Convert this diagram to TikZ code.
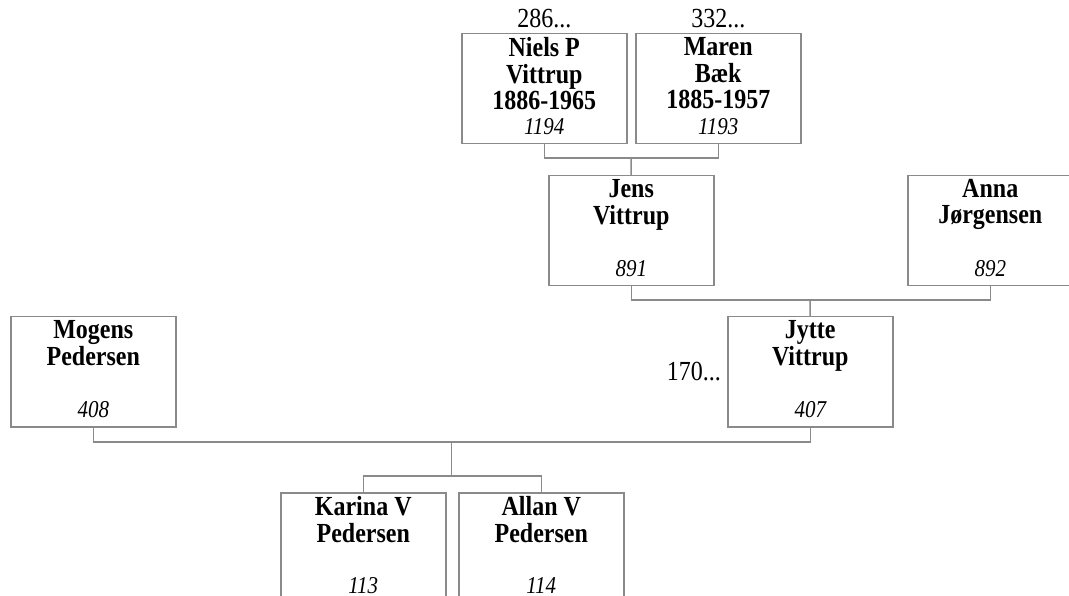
\documentclass[tikz,border=0pt]{standalone}
\usepackage{fontspec}
\usepackage{graphicx}
\setmainfont{Liberation Serif}
\definecolor{linegray}{RGB}{138,138,138}
\tikzset{
  personbox/.style={draw=linegray, line width=1.5pt, minimum width=165pt, minimum height=110pt, inner sep=0pt, anchor=north west},
  nametext/.style={font=\fontsize{24}{22.6}\selectfont\bfseries, inner sep=0pt, anchor=north},
  idtext/.style={font=\fontsize{21}{24}\selectfont\itshape, inner sep=0pt, anchor=base},
  reftext/.style={font=\fontsize{24}{26}\selectfont, inner sep=0pt},
  conn/.style={draw=linegray, line width=1.5pt}
}
\newcommand{\tallish}[1]{\scalebox{1}[1.15]{#1}}
\newcommand{\personnode}[4]{%
  \node[personbox] (#1) at (#2) {};
  \node[nametext] (#1-name) at ([yshift=-4pt]#1.north) {\tallish{\begin{tabular}{@{}c@{}}#3\end{tabular}}};
  \node[idtext] (#1-id) at ([yshift=10pt]#1.south) {\tallish{#4}};
}
\begin{document}
\begin{tikzpicture}[x=1pt,y=-1pt]
\useasboundingbox (0,0) rectangle (1069,596);
\clip (0,0) rectangle (1069,596);
\personnode{niels}{461,33}{Niels P\\Vittrup\\1886-1965}{1194}
\personnode{maren}{635,33}{Maren\\Bæk\\1885-1957}{1193}
\personnode{jens}{548,175}{Jens\\Vittrup}{891}
\personnode{anna}{907,175}{Anna\\Jørgensen}{892}
\personnode{mogens}{10,316}{Mogens\\Pedersen}{408}
\personnode{jytte}{727,316}{Jytte\\Vittrup}{407}
\personnode{karina}{280,492}{Karina V\\Pedersen}{113}
\personnode{allan}{458,492}{Allan V\\Pedersen}{114}

\node[reftext, anchor=base] (r286) at ([yshift=5pt]niels.north) {\tallish{286...}};
\node[reftext, anchor=base] (r332) at ([yshift=5pt]maren.north) {\tallish{332...}};
\node[reftext, anchor=east] (r170) at ([xshift=-6pt]jytte.west) {\tallish{170...}};

% connectors
\coordinate (p1) at (631,158);
\draw[conn] (niels.south) |- (p1) -| (maren.south);
\draw[conn] (p1) -- (jens.north);

\coordinate (p2) at (810,300);
\draw[conn] (jens.south) |- (p2) -| (anna.south);
\draw[conn] (p2) -- (jytte.north);

\coordinate (p3) at (451.5,442);
\coordinate (p4) at (451.5,476);
\draw[conn] (mogens.south) |- (p3) -| (jytte.south);
\draw[conn] (p3) -- (p4);
\draw[conn] (karina.north) |- (p4) -| (allan.north);
\end{tikzpicture}
\end{document}
